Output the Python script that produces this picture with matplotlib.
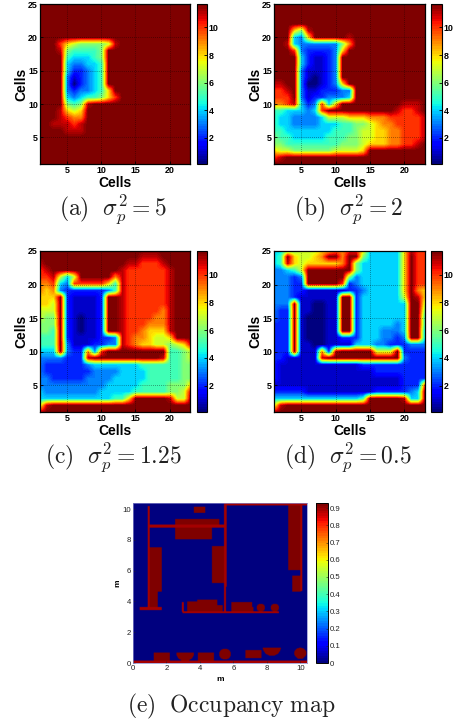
import numpy as np
import matplotlib
matplotlib.use('Agg')
import matplotlib.pyplot as plt

plt.rcParams['font.family'] = ['Liberation Sans', 'DejaVu Sans']
plt.rcParams['mathtext.fontset'] = 'cm'

W, H = 453, 721

# cost maps read cell by cell, top row is y=25, left column is x=1
# 0-9 then a=10, b=11, c=saturated
rows_a = [
    "ccccc ccccc ccccc ccccc ccc", "ccccc ccccc ccccc ccccc ccc", "ccccc ccccc ccccc ccccc ccc",
    "ccccc ccccc ccccc ccccc ccc", "ccccc ccccc ccccc ccccc ccc", "ccccc ccccc ccccc ccccc ccc",
    "ccca8 76666 7bccc ccccc ccc",
    "cccb6 55556 ccccc ccccc ccc",
    "cccc5 44456 ccccc ccccc ccc",
    "cccc4 33445 ccccc ccccc ccc",
    "cccc4 22345 ccccc ccccc ccc",
    "cccc3 12345 ccccc ccccc ccc",
    "cccc3 02345 ccccc ccccc ccc",
    "cccc3 23345 8cccc ccccc ccc",
    "cccc4 34556 8accc ccccc ccc",
    "cccc6 56bcc ccccc ccccc ccc",
    "cccb8 78ccc ccccc ccccc ccc",
    "cccba 99ccc ccccc ccccc ccc",
    "ccbbb abccc ccccc ccccc ccc",
    "ccccb bbccc ccccc ccccc ccc",
    "ccccc ccccc ccccc ccccc ccc", "ccccc ccccc ccccc ccccc ccc", "ccccc ccccc ccccc ccccc ccc",
    "ccccc ccccc ccccc ccccc ccc", "ccccc ccccc ccccc ccccc ccc",
]
rows_b = [
    "ccccc ccccc ccccc ccccc ccc", "ccccc ccccc ccccc ccccc ccc", "ccccc ccccc ccccc ccccc ccc",
    "ccccc ccccc ccccc ccccc ccc",
    "ccc86 bcccc ccccc ccccc ccc",
    "ccc43 8cccc cbccc ccccc ccc",
    "ccb43 33333 69ccc ccccc ccc",
    "ccca3 22223 8cccc ccccc ccc",
    "cccc4 21123 ccccc ccccc ccc",
    "cccc4 21123 ccccc ccccc ccc",
    "cccc3 11123 ccccc ccccc ccc",
    "cccc3 10123 ccccc ccccc ccc",
    "bbcc3 00123 8cccc ccccc ccc",
    "aabc3 11222 33ccc ccccc ccc",
    "aaac3 12233 34ccc ccccc ccc",
    "99ab4 23a48 ccccc ccccb bbc",
    "55444 34acc ccccc cccba abc",
    "54433 33477 78889 99aaa aab",
    "54433 33444 55667 899aa aab",
    "55444 44445 55677 8899a aab",
    "65544 44455 56677 8899a aab",
    "66555 55555 66678 8899a abc",
    "87766 66667 7778c ccccc ccc",
    "abccc ccccc ccccc ccccc ccc",
    "ccccc ccccc ccccc ccccc ccc",
]
rows_c = [
    "ccccc ccccc ccccc ccccc ccc",
    "ccccc ccccc ccccc bbbcc ccc",
    "bcccc ccccc cccbb aaabc ccc",
    "abccc ccccc ccbaa aaaab ccc",
    "aab74 7cccc c9baa aaaab ccc",
    "99a43 aaaaa 85baa aaaab ccc",
    "98932 22222 35baa aaaab ccc",
    "888c2 11112 ccbaa aaaab ccc",
    "887c2 11112 ccbaa aaaab ccc",
    "777c2 11112 ccbaa aaa9b ccc",
    "766c2 10112 ccbaa aa99b ccc",
    "666c2 10112 ccbaa a999b ccc",
    "665c2 10112 ccbaa 9888b ccc",
    "555c2 11112 23ba9 98778 ccc",
    "555c3 11122 33ba9 88776 78b",
    "444c3 2293a ccccc cccc5 567",
    "33332 22bcc ccccc cccb5 567",
    "32222 22344 44444 55555 566",
    "32222 22233 33444 45555 566",
    "33222 22333 34444 45555 566",
    "33333 33333 44444 55556 668",
    "43333 33334 44445 55556 67b",
    "44444 44444 4558c ccccb 77c",
    "7bccc ccccc ccccc ccccc ccc",
    "bcccc ccccc ccccc ccccc ccc",
]
rows_d = [
    "44567 77889 9aa84 44448 baa",
    "45c87 789cc 9cc64 44448 caa",
    "45b87 88888 9c644 44448 caa",
    "33457 ccccc cc644 44448 caa",
    "33323 ccccc c6344 44448 caa",
    "33322 ccccc a2344 44448 caa",
    "33322 11111 12234 44448 c98",
    "33321 11111 cc244 44447 cb8",
    "333c1 10011 cc244 44444 cc7",
    "322c1 10011 cc244 44444 cc6",
    "322c1 00011 cc244 44444 cc5",
    "222c1 00011 cc244 44434 cc5",
    "222c1 00011 cc244 43334 cc4",
    "222c1 00011 22244 43323 cc4",
    "222c1 10011 11444 33222 333",
    "222c1 1192b ccccc 777c2 222",
    "22111 11bcc ccccc cccc3 222",
    "21111 11111 11122 22222 222",
    "21111 11111 11111 22222 222",
    "21111 11111 11111 11112 222",
    "11111 11111 11111 11112 22a",
    "22222 11111 11111 22222 34c",
    "44444 44444 4445c ccccb 44c",
    "7bccc ccccc ccccc ccccc ccc",
    "bcccc ccccc ccccc ccccc ccc",
]
ticks_cells_x = [5, 10, 15, 20]
ticks_cells_y = [5, 10, 15, 20, 25]
ticks_cbar = [2, 4, 6, 8, 10]
captions = [r"$\mathrm{(a)}\ \ \sigma_p^2 = 5$", r"$\mathrm{(b)}\ \ \sigma_p^2 = 2$",
            r"$\mathrm{(c)}\ \ \sigma_p^2 = 1.25$", r"$\mathrm{(d)}\ \ \sigma_p^2 = 0.5$"]

# occupancy map obstacles in metres: x0, x1, y0, y1
occ_rects = [
    (2.5, 5.16, 8.9, 9.35), (2.5, 4.7, 8.03, 8.8), (3.64, 4.3, 9.74, 10.15),
    (0.98, 1.72, 4.62, 7.5), (0.98, 1.48, 3.6, 4.62), (4.7, 5.44, 5.2, 7.6),
    (3.24, 3.84, 3.34, 3.99), (3.84, 5.02, 3.34, 4.12), (5.02, 5.36, 3.34, 3.75),
    (5.86, 7.1, 3.34, 3.95), (5.86, 7.18, 3.34, 3.65), (9.28, 10.04, 6.03, 10.3),
    (9.5, 10.04, 4.64, 5.68), (1.24, 2.2, 0.15, 0.69), (3.88, 4.84, 0.15, 0.69),
    (6.7, 7.66, 0.32, 0.82),
]
# thin walls, a lighter red in the map
occ_walls = [
    (5.44, 10.4, 10.25, 10.4), (5.44, 5.6, 4.95, 10.4), (5.45, 5.55, 3.3, 4.95),
    (0.88, 0.98, 3.55, 10.2), (0.98, 5.44, 8.8, 8.98), (0.4, 1.72, 3.45, 3.62),
    (2.96, 8.7, 3.23, 3.36), (2.92, 3.04, 3.3, 3.97), (10.0, 10.12, 4.68, 10.3),
    (0.0, 10.4, 0.0, 0.15),
]
# x, y, r
occ_circles = [(7.64, 3.6, 0.26), (8.48, 3.6, 0.26), (5.5, 0.58, 0.35), (10.0, 0.63, 0.36)]
occ_halves = [(3.12, 0.67, 0.54), (8.3, 1.0, 0.53)]
occ_value = 0.93
wall_value = 0.895
ticks_m = [0, 2, 4, 6, 8, 10]
ticks_occ = [0, 0.1, 0.2, 0.3, 0.4, 0.5, 0.6, 0.7, 0.8, 0.9]


def decode(rows):
    grid = []
    for r in rows:
        r = r.replace(' ', '')
        if len(r) != 23:
            raise ValueError(r)
        grid.append([11.7 if c == 'c' else max(int(c, 36), 0.1) for c in r])
    return np.array(grid)


def px_axes(fig, x0, x1, y0, y1):
    # pixel box measured from the top left corner of the picture
    return fig.add_axes([x0/W, 1-y1/H, (x1-x0)/W, (y1-y0)/H])


def occupancy():
    xs = np.arange(0.02, 10.42, 0.04)
    ys = np.arange(0.02, 10.42, 0.04)
    X, Y = np.meshgrid(xs, ys)
    g = np.zeros(X.shape)
    for x0, x1, y0, y1 in occ_rects:
        g[(X >= x0) & (X <= x1) & (Y >= y0) & (Y <= y1)] = occ_value
    for cx, cy, r in occ_circles:
        g[(X-cx)**2+(Y-cy)**2 <= r*r] = occ_value
    for cx, cy, r in occ_halves:
        g[((X-cx)**2+(Y-cy)**2 <= r*r) & (Y <= cy)] = occ_value
    for x0, x1, y0, y1 in occ_walls:
        g[(X >= x0) & (X <= x1) & (Y >= y0) & (Y <= y1)] = wall_value
    return g


cmap = plt.get_cmap('jet', 64)
fig = plt.figure(figsize=(W/100, H/100), dpi=100)

boxes = [(40, 190, 4, 164, 197, 207), (274, 425, 4, 164, 431, 442),
         (40, 190, 251, 412, 197, 207), (274, 425, 251, 412, 431, 442)]
caption_pos = [(113, 209), (349, 209), (113, 457), (348, 457)]

for rows, box, cap, cpos in zip([rows_a, rows_b, rows_c, rows_d], boxes, captions, caption_pos):
    ax = px_axes(fig, box[0], box[1], box[2], box[3])
    im = ax.imshow(decode(rows), cmap=cmap, vmin=0.1, vmax=11.7, aspect='auto',
                   interpolation='bilinear', extent=(0.5, 23.5, 0.5, 25.5))
    ax.set_xlim(1, 23)
    ax.set_ylim(1, 25)
    ax.set_xticks(ticks_cells_x)
    ax.set_yticks(ticks_cells_y)
    ax.grid(True, ls=(0, (1, 2)), color='k', lw=0.5, alpha=0.7)
    ax.tick_params(direction='in', length=2, width=0.6, labelsize=6.4, pad=1.5)
    for t in ax.get_xticklabels()+ax.get_yticklabels():
        t.set_fontweight('bold')
    ax.set_xlabel('Cells', fontsize=10, fontweight='bold', labelpad=0.5)
    ax.set_ylabel('Cells', fontsize=10, fontweight='bold', labelpad=0)
    for s in ax.spines.values():
        s.set_linewidth(0.9)

    cax = px_axes(fig, box[4], box[5], box[2], box[3])
    cb = fig.colorbar(im, cax=cax)
    cb.set_ticks(ticks_cbar)
    cb.ax.tick_params(direction='in', length=2, width=0.6, labelsize=6.4, pad=1)
    for t in cb.ax.get_yticklabels():
        t.set_fontweight('bold')
    cb.outline.set_linewidth(0.8)
    fig.text(cpos[0]/W, 1-cpos[1]/H, cap, fontsize=17, color='#222222', ha='center', va='center')

# occupancy map
ax = px_axes(fig, 133, 307, 503, 663)
im = ax.imshow(occupancy(), cmap=cmap, vmin=0, vmax=occ_value, aspect='auto', origin='lower',
               interpolation='bilinear', extent=(0, 10.4, 0, 10.4))
ax.set_xticks(ticks_m)
ax.set_yticks(ticks_m)
ax.tick_params(direction='in', length=1.5, width=0.4, labelsize=5.6, pad=1.5, colors='#222222')
ax.set_xlabel('m', fontsize=6, fontweight='bold', labelpad=3)
ax.set_ylabel('m', fontsize=6, fontweight='bold', labelpad=1)
for s in ax.spines.values():
    s.set_linewidth(0.5)
    s.set_color('#8888cc')

cax = px_axes(fig, 316, 328, 503, 663)
cb = fig.colorbar(im, cax=cax)
cb.set_ticks(ticks_occ)
cb.set_ticklabels(['0', '0.1', '0.2', '0.3', '0.4', '0.5', '0.6', '0.7', '0.8', '0.9'])
cb.ax.tick_params(direction='in', length=1.5, width=0.4, labelsize=5.6, pad=1.5, colors='#222222')
cb.outline.set_linewidth(0.7)
fig.text(231/W, 1-706/H, r"$\mathrm{(e)\ \ Occupancy\ map}$", fontsize=17, color='#222222',
         ha='center', va='center')

fig.savefig('out.png', dpi=100)
